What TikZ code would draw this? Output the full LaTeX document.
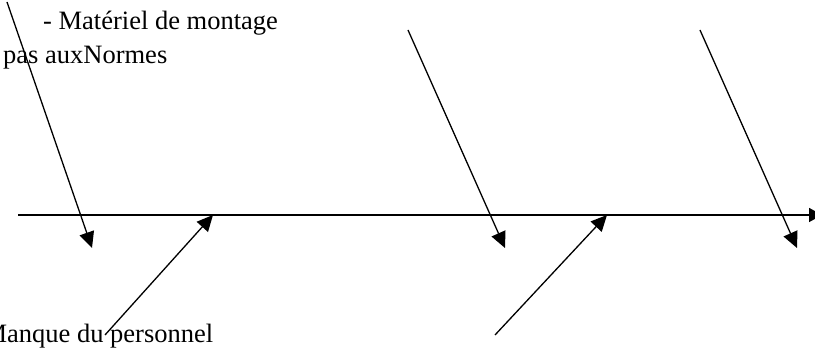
\documentclass[tikz,border=0pt]{standalone}
\usepackage{fontspec}
\setmainfont{Liberation Serif}
\usetikzlibrary{arrows.meta}
\begin{document}
\begin{tikzpicture}[x=1pt,y=1pt,
  lbl/.style={anchor=base west,inner sep=0pt,font=\fontsize{26.5}{31}\selectfont},
  bone/.style={line width=1.3pt,-{Triangle[length=16pt,width=15pt]}},
  spine/.style={line width=1.7pt,-{Triangle[length=13pt,width=14pt]}}]
\useasboundingbox (0,0) rectangle (815,356);
% coordinates (y up)
\coordinate (s0) at (18,141);
\coordinate (s1) at (822,141);
\coordinate (a1s) at (7,354);
\coordinate (a1e) at (92,108);
\coordinate (a2s) at (105,21);
\coordinate (a2e) at (213,141);
\coordinate (a3s) at (408,326);
\coordinate (a3e) at (505,108);
\coordinate (a4s) at (495,21);
\coordinate (a4e) at (607,141);
\coordinate (a5s) at (700,326);
\coordinate (a5e) at (797,108);
% texts
\node[lbl] (t1) at (43,326) {- Matériel de montage};
\node[lbl] (t2) at (3,292) {pas auxNormes};
\node[lbl] (t3) at (-16.6,13) {Manque du personnel};
% connectors
\draw[spine] (s0) -- (s1);
\draw[bone] (a1s) -- (a1e);
\draw[bone] (a2s) -- (a2e);
\draw[bone] (a3s) -- (a3e);
\draw[bone] (a4s) -- (a4e);
\draw[bone] (a5s) -- (a5e);
\end{tikzpicture}
\end{document}
